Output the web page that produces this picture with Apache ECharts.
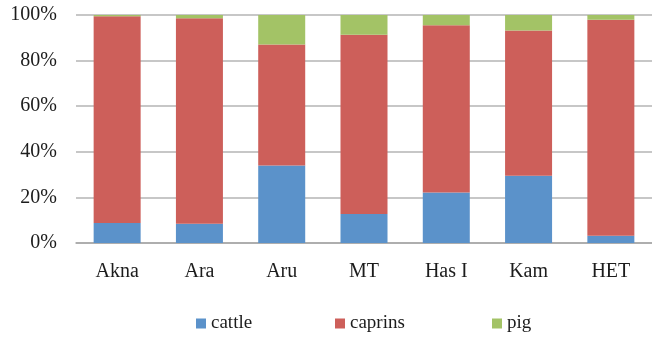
<!DOCTYPE html>
<html>
<head>
<meta charset="utf-8">
<script src="https://cdn.jsdelivr.net/npm/echarts@6/dist/echarts.min.js"></script>
<style>
  html, body { margin: 0; padding: 0; background: #ffffff; }
  #chart { width: 652px; height: 338px; }
</style>
</head>
<body>
<div id="chart"></div>
<script>
// Sites and species shares (percent of identified specimens)
var sites = ['Akna', 'Ara', 'Aru', 'MT', 'Has I', 'Kam', 'HET'];
var cattle = [8.8, 8.4, 34.0, 12.7, 22.1, 29.5, 3.2];
var caprins = [90.6, 90.2, 53.1, 78.6, 73.4, 63.7, 94.7];
var pig = [0.6, 1.4, 12.9, 8.7, 4.5, 6.8, 2.1];
var yTicks = [0, 20, 40, 60, 80, 100];

var serif = '"Liberation Serif", "DejaVu Serif", serif';
var colors = { cattle: '#5b92ca', caprins: '#cd5f5a', pig: '#a3c366' };
var ink = '#1c1c1c';

function legendFor(name, left) {
  return {
    data: [name],
    left: left,
    top: 314,
    itemWidth: 10,
    itemHeight: 10,
    itemGap: 0,
    icon: 'rect',
    padding: 0,
    textStyle: { fontFamily: serif, fontSize: 19, color: ink }
  };
}

var chart = echarts.init(document.getElementById('chart'), null, { renderer: 'canvas' });
chart.setOption({
  animation: false,
  backgroundColor: '#ffffff',
  grid: { left: 76, top: 15, width: 583, height: 228, containLabel: false },
  legend: [
    legendFor('cattle', 196),
    legendFor('caprins', 335),
    legendFor('pig', 492)
  ],
  xAxis: {
    type: 'category',
    data: sites,
    axisLine: { lineStyle: { color: '#a6a6a6', width: 1.5 } },
    axisTick: { show: false },
    axisLabel: { fontFamily: serif, fontSize: 20, color: ink, margin: 19 }
  },
  yAxis: {
    type: 'value',
    min: yTicks[0],
    max: yTicks[yTicks.length - 1],
    interval: 20,
    axisLine: { show: false },
    axisTick: { show: false },
    splitLine: { lineStyle: { color: '#b5b5b5', width: 1.5 } },
    axisLabel: {
      fontFamily: serif, fontSize: 20, color: ink, margin: 19,
      formatter: function (v) { return v + '%'; }
    }
  },
  series: [
    { name: 'cattle', type: 'bar', stack: 'all', data: cattle, barWidth: 47, itemStyle: { color: colors.cattle } },
    { name: 'caprins', type: 'bar', stack: 'all', data: caprins, barWidth: 47, itemStyle: { color: colors.caprins } },
    { name: 'pig', type: 'bar', stack: 'all', data: pig, barWidth: 47, itemStyle: { color: colors.pig } }
  ]
});
</script>
</body>
</html>
